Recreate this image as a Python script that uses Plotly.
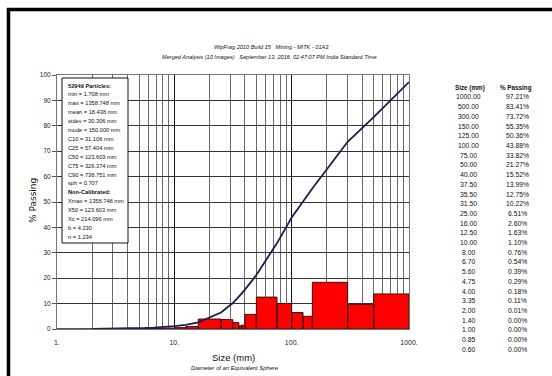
import plotly.graph_objects as go

# Sieve sizes (mm) and cumulative percent passing
sizes_mm = [1000.00, 500.00, 300.00, 150.00, 125.00, 100.00, 75.00, 50.00, 40.00,
            37.50, 35.50, 31.50, 25.00, 16.00, 12.50, 10.00, 8.00, 6.70, 5.60,
            4.75, 4.00, 3.35, 2.00, 1.40, 1.00, 0.85, 0.60]
pct_passing = [97.21, 83.41, 73.72, 55.35, 50.36, 43.88, 33.82, 21.27, 15.52,
               13.99, 12.75, 10.22, 6.51, 2.60, 1.63, 1.10, 0.76, 0.54, 0.39,
               0.29, 0.18, 0.11, 0.01, 0.00, 0.00, 0.00, 0.00]

# Percent retained in each size class (lower edge, upper edge, percent)
bin_lower = [0.60, 0.85, 1.00, 1.40, 2.00, 3.35, 4.00, 4.75, 5.60, 6.70, 8.00, 10.00, 12.50,
             16.00, 25.00, 31.50, 35.50, 37.50, 40.00, 50.00, 75.00, 100.00, 125.00, 150.00,
             300.00, 500.00]
bin_upper = [0.85, 1.00, 1.40, 2.00, 3.35, 4.00, 4.75, 5.60, 6.70, 8.00, 10.00, 12.50, 16.00,
             25.00, 31.50, 35.50, 37.50, 40.00, 50.00, 75.00, 100.00, 125.00, 150.00, 300.00,
             500.00, 1000.00]
pct_retained = [0.00, 0.00, 0.00, 0.01, 0.10, 0.07, 0.11, 0.10, 0.15, 0.22, 0.34, 0.53, 0.97,
                3.91, 3.71, 2.53, 1.24, 1.53, 5.75, 12.55, 10.06, 6.48, 4.99, 18.37,
                9.69, 13.80]

stats_lines = [
    "<b>52949 Particles:</b>",
    "min = 1.708 mm",
    "max = 1358.748 mm",
    "mean = 18.438 mm",
    "stdev = 30.306 mm",
    "mode = 150.000 mm",
    "C10 = 31.106 mm",
    "C25 = 57.404 mm",
    "C50 = 123.603 mm",
    "C75 = 326.374 mm",
    "C90 = 738.751 mm",
    "sph = 0.707",
    "<b>Non-Calibrated:</b>",
    "Xmax = 1358.748 mm",
    "X50 = 123.603 mm",
    "Xc = 214.096 mm",
    "b = 4.230",
    "n = 1.234",
]

x_tickvals = [1, 10, 100, 1000]
x_ticktext = ["1.", "10.", "100.", "1000."]
minor_vals = [m * 10 ** k for k in range(3) for m in range(2, 10)]

FONT = "Liberation Sans Narrow, Liberation Sans, Arial, sans-serif"

W, H = 552, 376
L, R, T, B = 57, 143, 75, 47
PW, PH = W - L - R, H - T - B


def px(x):
    return (x - L) / PW


def py(y):
    return (H - B - y) / PH


fig = go.Figure()

# histogram of retained percent, one closed rectangle per size class
hx, hy = [], []
for lo, hi, v in zip(bin_lower, bin_upper, pct_retained):
    if hi <= 1:
        continue
    lo = max(lo, 1)
    hx += [lo, lo, hi, hi, lo, None]
    hy += [0, v, v, 0, 0, None]
fig.add_trace(go.Scatter(
    x=hx, y=hy, mode="lines", fill="toself", fillcolor="#ff0000",
    line=dict(color="#3a1010", width=1), hoverinfo="skip", showlegend=False,
))

# cumulative passing curve
curve = sorted((s, p) for s, p in zip(sizes_mm, pct_passing) if s >= 2)
fig.add_trace(go.Scatter(
    x=[c[0] for c in curve], y=[c[1] for c in curve], mode="lines",
    line=dict(color="#1c1c50", width=1.8), showlegend=False,
))

fig.update_xaxes(
    type="log", range=[0, 3], tickvals=x_tickvals, ticktext=x_ticktext,
    showgrid=True, gridcolor="#111111", gridwidth=1.3,
    minor=dict(tickvals=minor_vals, showgrid=True, gridcolor="#6a6a6a", gridwidth=1, ticks=""),
    ticks="", ticklabelstandoff=7, tickfont=dict(family=FONT, size=7, color="#222"),
    showline=True, linecolor="#777", linewidth=1, mirror=True, zeroline=False,
)
fig.update_yaxes(
    range=[0, 100], dtick=10, showgrid=True, gridcolor="#333333", gridwidth=1,
    ticks="outside", ticklen=4, tickcolor="#555",
    tickfont=dict(family=FONT, size=6.5, color="#222"),
    showline=True, linecolor="#777", linewidth=1, mirror=True, zeroline=False,
)

ann = []
# titles
ann.append(dict(x=px(271), y=py(47), text="<i>WipFrag 2010 Build 15   Mining - MITK - 01A3</i>",
                font=dict(family=FONT, size=5.6, color="#111")))
ann.append(dict(x=px(269), y=py(57),
                text="<i>Merged Analysis (10 Images)   September 13, 2016, 02:47:07 PM India Standard Time</i>",
                font=dict(family=FONT, size=5.6, color="#111")))
# axis titles
ann.append(dict(x=px(233), y=py(357), text="Size (mm)",
                font=dict(family=FONT, size=9.5, color="#111")))
ann.append(dict(x=px(235), y=py(368), text="<i>Diameter of an Equivalent Sphere</i>",
                font=dict(family=FONT, size=5.8, color="#111")))
ann.append(dict(x=px(33), y=py(201), text="% Passing", textangle=-90,
                font=dict(family="DejaVu Sans, sans-serif", size=9, color="#111")))

# statistics box text
for i, line in enumerate(stats_lines):
    ann.append(dict(x=px(66), y=py(85.5 + i * 8.9), text=line, xanchor="left",
                    font=dict(family=FONT, size=5.7, color="#111")))

# size / passing table
ann.append(dict(x=px(470), y=py(88), text="<b>Size (mm)</b>",
                font=dict(family=FONT, size=6.3, color="#111")))
ann.append(dict(x=px(516), y=py(88), text="<b>% Passing</b>",
                font=dict(family=FONT, size=6.3, color="#111")))
for i, (s, p) in enumerate(zip(sizes_mm, pct_passing)):
    yy = py(97 + i * 9.7)
    ann.append(dict(x=px(468), y=yy, text=f"{s:.2f}",
                    font=dict(family=FONT, size=6.8, color="#111")))
    ann.append(dict(x=px(517), y=yy, text=f"{p:.2f}%",
                    font=dict(family=FONT, size=6.8, color="#111")))

for a in ann:
    a.setdefault("xanchor", "center")
    a.update(xref="paper", yref="paper", yanchor="middle", showarrow=False)

shapes = [
    # statistics box
    dict(type="rect", xref="paper", yref="paper", x0=px(62), x1=px(128), y0=py(243), y1=py(78),
         line=dict(color="#111", width=1), fillcolor="white", layer="above"),
    # outer frame
    dict(type="rect", xref="paper", yref="paper", x0=px(8.5), x1=px(570), y0=py(395), y1=py(9.5),
         line=dict(color="black", width=3.5)),
]

fig.update_layout(
    width=W, height=H, margin=dict(l=L, r=R, t=T, b=B),
    paper_bgcolor="white", plot_bgcolor="white",
    annotations=ann, shapes=shapes, showlegend=False,
)

fig.write_html("out.html")
